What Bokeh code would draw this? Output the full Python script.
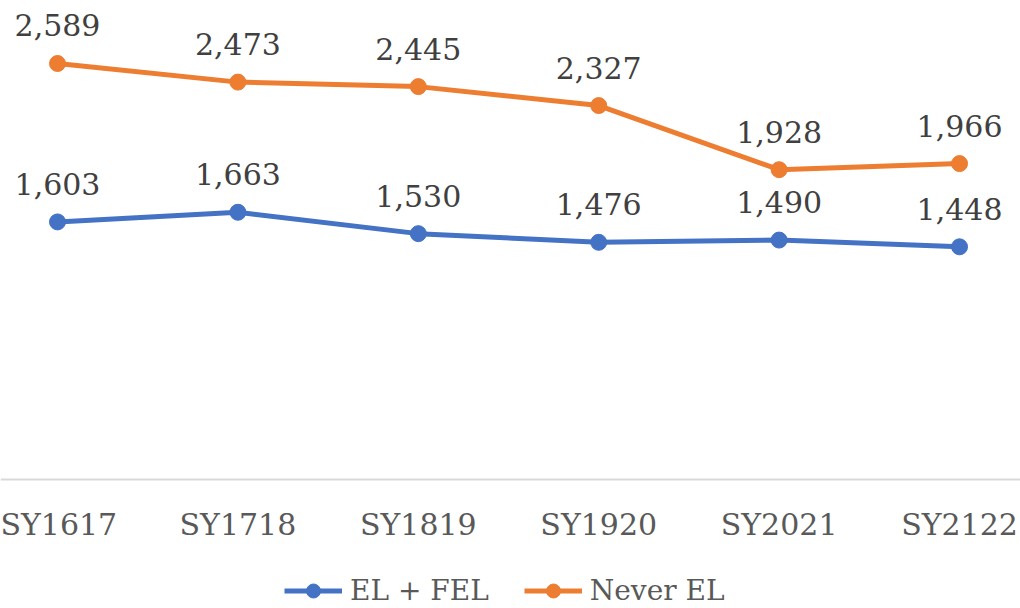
from bokeh.plotting import figure
from bokeh.models import ColumnDataSource, FixedTicker, Legend, LegendItem, Range1d, LinearAxis
from bokeh.core.properties import value
from bokeh.embed import file_html
from bokeh.resources import INLINE

years = ["SY1617", "SY1718", "SY1819", "SY1920", "SY2021", "SY2122"]
el_fel = [1603, 1663, 1530, 1476, 1490, 1448]
never_el = [2589, 2473, 2445, 2327, 1928, 1966]

FONT = "DejaVu Serif"
BLUE = "#4472C4"
ORANGE = "#ED7D31"

idx = list(range(len(years)))
src_b = ColumnDataSource(dict(x=idx, y=el_fel, lab=[f"{v:,}" for v in el_fel]))
src_o = ColumnDataSource(dict(x=idx, y=never_el, lab=[f"{v:,}" for v in never_el]))

p = figure(width=1020, height=608, output_backend="svg", toolbar_location=None,
           x_range=Range1d(-0.316, 5.338), y_range=Range1d(-803, 2981),
           x_axis_location=None, y_axis_location=None,
           min_border_left=0, min_border_right=0, min_border_top=0, min_border_bottom=0)
p.outline_line_color = None
p.xgrid.visible = False
p.ygrid.visible = False

ax = LinearAxis(fixed_location=0)
ax.ticker = FixedTicker(ticks=idx)
ax.major_label_overrides = {i: y for i, y in enumerate(years)}
ax.major_tick_line_color = None
ax.minor_tick_line_color = None
ax.major_tick_out = 0
ax.axis_line_color = "#D9D9D9"
ax.axis_line_width = 2
ax.major_label_text_font = FONT
ax.major_label_text_font_size = "30px"
ax.major_label_text_color = "#595959"
ax.major_label_standoff = 28
p.add_layout(ax, "below")

lb = p.line("x", "y", source=src_b, line_color=BLUE, line_width=5)
sb = p.scatter("x", "y", source=src_b, size=16, fill_color=BLUE, line_color=BLUE)
lo = p.line("x", "y", source=src_o, line_color=ORANGE, line_width=5)
so = p.scatter("x", "y", source=src_o, size=16, fill_color=ORANGE, line_color=ORANGE)

for s in (src_b, src_o):
    p.text("x", "y", text="lab", source=s, text_align="center", text_baseline="bottom",
           y_offset=-27, text_font=value(FONT), text_font_size="30px", text_color="#404040")

legend = Legend(items=[LegendItem(label="EL + FEL", renderers=[lb, sb]),
                       LegendItem(label="Never EL", renderers=[lo, so])],
                orientation="horizontal", location=(284, 0))
legend.label_text_font = FONT
legend.label_text_font_size = "28px"
legend.label_text_color = "#595959"
legend.glyph_width = 58
legend.glyph_height = 35
legend.label_standoff = 8
legend.spacing = 35
legend.border_line_color = None
legend.background_fill_alpha = 0
legend.margin = 0
legend.padding = 0
p.add_layout(legend, "center")

open("out.html", "w").write(file_html(p, INLINE))
